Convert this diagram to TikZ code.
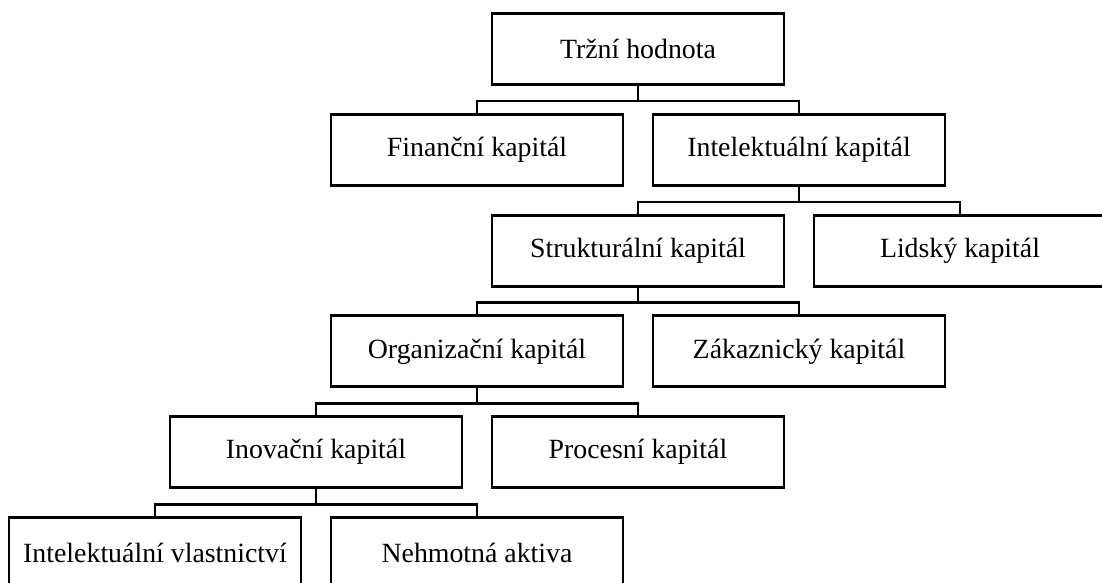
\documentclass[tikz,border=0pt]{standalone}
\usepackage{fontspec}
\setmainfont{Liberation Serif}
\definecolor{kapline}{HTML}{000000}

\begin{document}
\begin{tikzpicture}[
    font=\fontsize{19.8}{24}\selectfont,
    unit/.style={draw=kapline, fill=white, align=center,
                 minimum width=7.3cm, minimum height=1.775cm,
                 inner sep=0pt, line width=2pt},
    link/.style={line width=1.8pt, draw=kapline}
]
\useasboundingbox (0,0) rectangle (27.55,-14.55);

\node[unit] (trzni) at (15.95,-1.225) {Tržní hodnota};
\node[unit] (financni) at (11.925,-3.745) {Finanční kapitál};
\node[unit] (intelekt) at (19.975,-3.745) {Intelektuální kapitál};
\node[unit] (strukt) at (15.95,-6.265) {Strukturální kapitál};
\node[unit] (lidsky) at (24.0,-6.265) {Lidský kapitál};
\node[unit] (organiz) at (11.925,-8.785) {Organizační kapitál};
\node[unit] (zakaz) at (19.975,-8.785) {Zákaznický kapitál};
\node[unit] (inovac) at (7.9,-11.305) {Inovační kapitál};
\node[unit] (proces) at (15.95,-11.305) {Procesní kapitál};
\node[unit] (vlast) at (3.875,-13.825) {Intelektuální vlastnictví};
\node[unit] (nehmot) at (11.925,-13.825) {Nehmotná aktiva};

\draw[link] (trzni.south) -- ++(0,-0.38) -| (financni.north);
\draw[link] (trzni.south) -- ++(0,-0.38) -| (intelekt.north);
\draw[link] (intelekt.south) -- ++(0,-0.38) -| (strukt.north);
\draw[link] (intelekt.south) -- ++(0,-0.38) -| (lidsky.north);
\draw[link] (strukt.south) -- ++(0,-0.38) -| (organiz.north);
\draw[link] (strukt.south) -- ++(0,-0.38) -| (zakaz.north);
\draw[link] (organiz.south) -- ++(0,-0.38) -| (inovac.north);
\draw[link] (organiz.south) -- ++(0,-0.38) -| (proces.north);
\draw[link] (inovac.south) -- ++(0,-0.38) -| (vlast.north);
\draw[link] (inovac.south) -- ++(0,-0.38) -| (nehmot.north);
\end{tikzpicture}
\end{document}
